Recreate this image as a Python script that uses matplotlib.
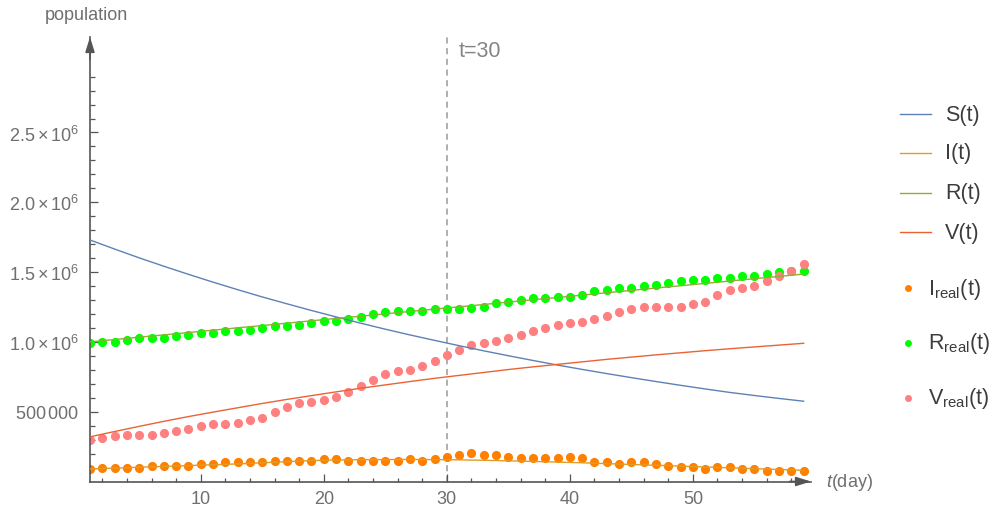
import numpy as np
import matplotlib
matplotlib.use("Agg")
import matplotlib.pyplot as plt
from matplotlib.lines import Line2D
from matplotlib.ticker import FixedLocator, MultipleLocator

plt.rcParams["font.family"] = ["Liberation Sans", "DejaVu Sans"]
plt.rcParams["mathtext.fontset"] = "custom"
plt.rcParams["mathtext.rm"] = "Liberation Sans"
plt.rcParams["mathtext.it"] = "Liberation Sans:italic"
plt.rcParams["mathtext.bf"] = "Liberation Sans:bold"

# ---- model curves (values in millions), sampled every other day ----
model_days = np.arange(1, 60, 2)
S_model = [1.730, 1.665, 1.602, 1.542, 1.484, 1.428, 1.374, 1.322, 1.273, 1.225,
           1.179, 1.134, 1.091, 1.050, 1.011, 0.973, 0.936, 0.901, 0.867, 0.834,
           0.803, 0.773, 0.744, 0.716, 0.689, 0.663, 0.638, 0.616, 0.595, 0.575]
I_model = [0.090, 0.096, 0.102, 0.108, 0.114, 0.120, 0.126, 0.134, 0.142, 0.150,
           0.154, 0.156, 0.157, 0.158, 0.157, 0.155, 0.152, 0.148, 0.144, 0.139,
           0.134, 0.128, 0.122, 0.116, 0.110, 0.104, 0.098, 0.092, 0.086, 0.080]
R_model = [1.000, 1.017, 1.034, 1.050, 1.067, 1.084, 1.101, 1.117, 1.134, 1.151,
           1.168, 1.184, 1.201, 1.218, 1.235, 1.251, 1.268, 1.285, 1.302, 1.318,
           1.335, 1.352, 1.369, 1.386, 1.402, 1.419, 1.436, 1.453, 1.469, 1.486]
V_model = [0.320, 0.358, 0.395, 0.431, 0.465, 0.497, 0.528, 0.559, 0.588, 0.615,
           0.642, 0.668, 0.692, 0.716, 0.739, 0.760, 0.781, 0.802, 0.821, 0.839,
           0.857, 0.875, 0.891, 0.907, 0.922, 0.937, 0.951, 0.964, 0.977, 0.990]

# ---- observed data (values in millions), one per day ----
days = np.arange(1, 60)
I_real = [0.090, 0.100, 0.100, 0.100, 0.097, 0.113, 0.113, 0.113, 0.113, 0.125,
          0.125, 0.137, 0.137, 0.137, 0.137, 0.149, 0.149, 0.149, 0.149, 0.161,
          0.161, 0.149, 0.149, 0.149, 0.149, 0.149, 0.161, 0.149, 0.161, 0.173,
          0.190, 0.202, 0.190, 0.190, 0.178, 0.166, 0.166, 0.166, 0.166, 0.178,
          0.166, 0.137, 0.137, 0.125, 0.137, 0.137, 0.125, 0.113, 0.101, 0.101,
          0.090, 0.101, 0.101, 0.090, 0.090, 0.078, 0.078, 0.078, 0.078]
R_real = [0.995, 1.002, 1.002, 1.014, 1.026, 1.026, 1.026, 1.040, 1.052, 1.064,
          1.064, 1.076, 1.076, 1.088, 1.100, 1.112, 1.112, 1.123, 1.135, 1.147,
          1.152, 1.164, 1.176, 1.200, 1.212, 1.224, 1.224, 1.224, 1.236, 1.236,
          1.236, 1.240, 1.252, 1.276, 1.288, 1.300, 1.312, 1.312, 1.324, 1.324,
          1.336, 1.362, 1.374, 1.386, 1.386, 1.398, 1.410, 1.422, 1.434, 1.446,
          1.446, 1.458, 1.458, 1.470, 1.470, 1.486, 1.498, 1.505, 1.510]
V_real = [0.300, 0.309, 0.324, 0.335, 0.335, 0.335, 0.347, 0.359, 0.374, 0.398,
          0.410, 0.410, 0.421, 0.438, 0.457, 0.495, 0.531, 0.560, 0.572, 0.584,
          0.608, 0.644, 0.682, 0.729, 0.770, 0.792, 0.799, 0.830, 0.866, 0.906,
          0.942, 0.978, 0.990, 1.004, 1.028, 1.049, 1.076, 1.100, 1.123, 1.138,
          1.140, 1.164, 1.188, 1.212, 1.236, 1.248, 1.248, 1.248, 1.248, 1.271,
          1.288, 1.336, 1.372, 1.384, 1.398, 1.434, 1.470, 1.510, 1.560]

UNIT = 1e6
t_marker = 30
y_major = [500000, 1000000, 1500000, 2000000, 2500000]
y_major_labels = [r"$500\,000$", r"$1.0\times10^{6}$", r"$1.5\times10^{6}$",
                  r"$2.0\times10^{6}$", r"$2.5\times10^{6}$"]
x_major = [10, 20, 30, 40, 50]

C_S, C_I, C_R, C_V = "#5e81b5", "#e19c24", "#8fb032", "#eb6235"
C_IR, C_RR, C_VR = "#ff8000", "#00ff00", "#ff8080"
AXIS_C = "#555555"
TEXT_C = "#6f6f6f"

fig = plt.figure(figsize=(9.97, 5.06), dpi=100)
ax = fig.add_axes([90 / 997, (506 - 482.5) / 506, (811 - 90) / 997, (482.5 - 38) / 506])
ax.set_xlim(1, 59.6)
ax.set_ylim(0, 3.184e6)

# observed points
ms = 6.6
ax.plot(days, np.array(I_real) * UNIT, "o", color=C_IR, ms=ms, mec="none", zorder=2)
ax.plot(days, np.array(R_real) * UNIT, "o", color=C_RR, ms=ms, mec="none", zorder=2)
ax.plot(days, np.array(V_real) * UNIT, "o", color=C_VR, ms=ms, mec="none", zorder=2)

# model curves
lw = 1.0
ax.plot(model_days, np.array(S_model) * UNIT, color=C_S, lw=lw, zorder=3)
ax.plot(model_days, np.array(I_model) * UNIT, color=C_I, lw=lw, zorder=3)
ax.plot(model_days, np.array(R_model) * UNIT, color=C_R, lw=lw, zorder=3)
ax.plot(model_days, np.array(V_model) * UNIT, color=C_V, lw=lw, zorder=3)

# reference line at t = 30
ax.axvline(t_marker, color="#9a9a9a", lw=1.1, dashes=(4, 3), zorder=1)
ax.text(t_marker + 0.95, 3.085e6, "t=30", color="#858585", fontsize=15.5,
        ha="left", va="center")

# axes styling
for side in ("top", "right"):
    ax.spines[side].set_visible(False)
for side in ("left", "bottom"):
    ax.spines[side].set_color(AXIS_C)
    ax.spines[side].set_linewidth(1.2)

ax.yaxis.set_major_locator(FixedLocator(y_major))
ax.set_yticklabels(y_major_labels)
ax.yaxis.set_minor_locator(FixedLocator(
    [v * 100000 for v in range(1, 30) if v % 5 != 0]))
ax.xaxis.set_major_locator(FixedLocator(x_major))
ax.xaxis.set_minor_locator(MultipleLocator(2))

ax.tick_params(which="both", direction="in", color=AXIS_C, width=0.9,
               labelcolor=TEXT_C, labelsize=13)
ax.tick_params(axis="y", which="major", length=6, pad=8)
ax.tick_params(axis="y", which="minor", length=3.5)
ax.tick_params(axis="x", which="major", length=5.5, pad=6)
ax.tick_params(axis="x", which="minor", length=3)

# axis arrows
ax.annotate("", xy=(0, 1), xytext=(0, 0.95), xycoords="axes fraction",
            arrowprops=dict(arrowstyle="-|>,head_length=0.9,head_width=0.28",
                            color=AXIS_C, lw=1.2, shrinkA=0, shrinkB=0))
ax.annotate("", xy=(1, 0), xytext=(0.97, 0), xycoords="axes fraction",
            arrowprops=dict(arrowstyle="-|>,head_length=0.9,head_width=0.28",
                            color=AXIS_C, lw=1.2, shrinkA=0, shrinkB=0))

fig.text(45 / 997, 1 - 16 / 506, "population", color=TEXT_C, fontsize=13,
         ha="left", va="center")
fig.text(826 / 997, 1 - 483 / 506, r"$t$(day)", color=TEXT_C, fontsize=13,
         ha="left", va="center")

# legend
LEG_C = "#3c3c3c"
line_entries = [(C_S, "S(t)", 115), (C_I, "I(t)", 154), (C_R, "R(t)", 194), (C_V, "V(t)", 233)]
for col, lab, ypx in line_entries:
    yf = 1 - ypx / 506
    fig.add_artist(Line2D([900 / 997, 931 / 997], [yf, yf], color=col, lw=1.0,
                          transform=fig.transFigure))
    fig.text(945 / 997, yf, lab, color=LEG_C, fontsize=15.5, ha="left", va="center")

dot_entries = [(C_IR, "I", 289), (C_RR, "R", 344), (C_VR, "V", 399)]
for col, lab, ypx in dot_entries:
    yf = 1 - ypx / 506
    fig.add_artist(Line2D([908 / 997], [yf], marker="o", ms=5, color=col, mec="none",
                          transform=fig.transFigure))
    fig.text(928 / 997, yf, lab + r"$_{\mathrm{real}}$(t)", color=LEG_C, fontsize=15.5,
             ha="left", va="center")

fig.savefig("out.png", dpi=100, facecolor="white")
